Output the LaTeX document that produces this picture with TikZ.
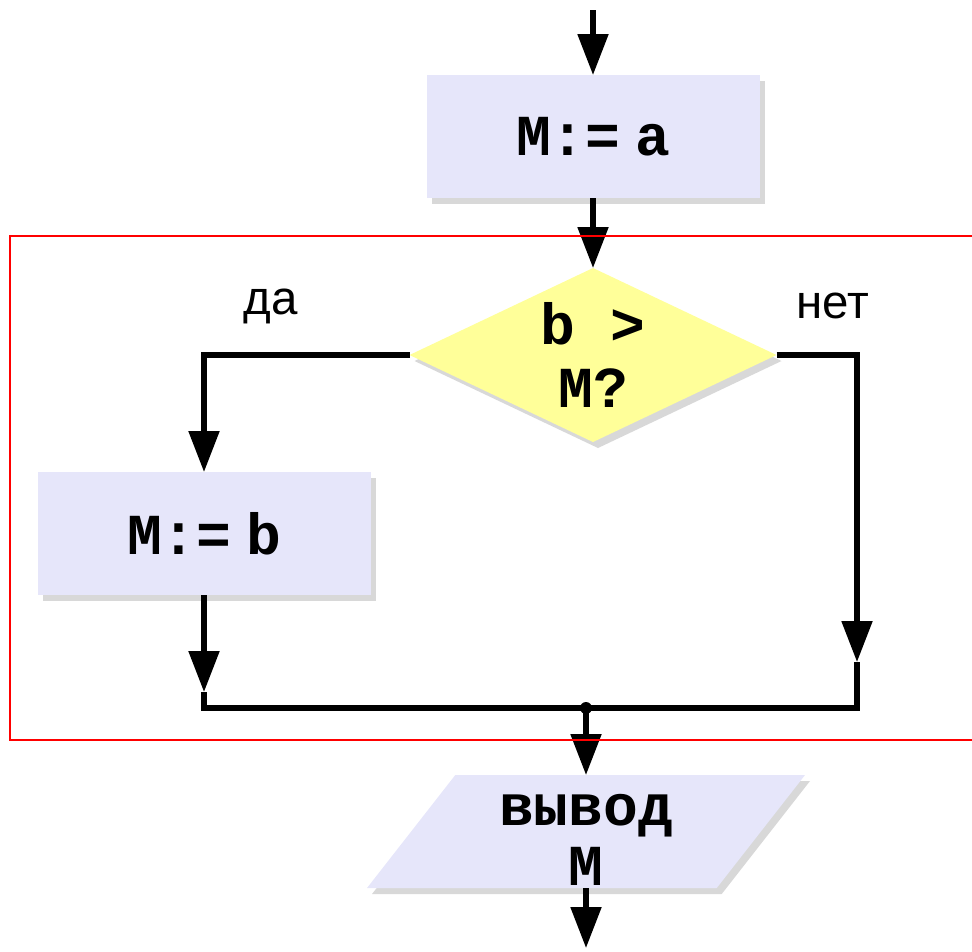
\documentclass[tikz,border=0pt]{standalone}
\usepackage{fontspec}
\setmainfont{Liberation Sans}
\newfontfamily\codefont{Liberation Mono}
\definecolor{boxlav}{RGB}{230, 230, 250}
\definecolor{condyel}{RGB}{255, 255, 153}
\definecolor{framered}{RGB}{255, 0, 0}
\usetikzlibrary{shapes.geometric, arrows.meta, positioning, shadows}
\tikzset{
  code/.style={font=\fontsize{33}{36}\codefont\bfseries},
  lbl/.style={font=\fontsize{27}{30}\selectfont},
  softshadow/.style={drop shadow={shadow xshift=0.1cm, shadow yshift=-0.12cm, fill=black!30}},
  procbox/.style={rectangle, fill=boxlav, minimum width=6.66cm, minimum height=2.46cm,
    inner sep=0pt, outer sep=0pt, softshadow, code},
  decision/.style={diamond, aspect=2.1, fill=condyel, minimum width=7.34cm, minimum height=3.48cm,
    inner sep=0pt, outer sep=0pt, softshadow, code, align=center},
  iobox/.style={trapezium, trapezium left angle=52, trapezium right angle=128,
    trapezium stretches body=true, minimum width=8.76cm,
    fill=boxlav, inner xsep=2pt, inner ysep=0pt, outer sep=0pt, softshadow},
  flow/.style={line width=3pt},
  arr/.style={flow, -{Triangle[length=0.82cm, width=0.6cm]}}
}

\begin{document}
\begin{tikzpicture}
  \useasboundingbox (0,0) rectangle (19.44,-19.02);

  % Blocks
  \node[procbox] (assign) at (11.86,-2.73) {М:=\hspace{0.25em}a};
  \node[decision] (cond) at (11.86,-7.1) {b >\\М?};
  \node[procbox] (setb) at (4.08,-10.67) {М:=\hspace{0.25em}b};
  \node[iobox] (out) at (11.72,-16.63) {\rule[-1.13cm]{0pt}{2.26cm}};
  \node[code, align=center] (outtext) at (11.72,-16.8) {вывод\\[-2pt]М};

  % Branch labels
  \node[lbl, anchor=base] (yes) at (5.42,-6.28) {да};
  \node[lbl, anchor=base] (no) at (16.66,-6.36) {нет};

  % Connector points
  \coordinate (start) at (11.86,-0.2);
  \coordinate (lmid) at (4.08,-13.84);
  \coordinate (rmid) at (17.14,-13.24);
  \coordinate (ljoin) at (4.08,-14.16);
  \coordinate (rjoin) at (17.14,-14.16);
  \coordinate (join) at (11.72,-14.16);
  \coordinate (end) at (11.72,-18.96);

  % Connectors
  \draw[arr] (start) -- (assign.north);
  \draw[arr] (assign.south) -- (cond.north);
  \draw[arr] (cond.west) -| (setb.north);
  \draw[arr] (cond.east) -| (rmid);
  \draw[arr] (setb.south) -- (lmid);
  \draw[flow] (lmid) -- (ljoin) -- (rjoin) -- (rmid);
  \fill (join) circle (0.12cm);
  \draw[arr] (join) -- (out.north);
  \draw[arr] (out.south) -- (end);

  % Loop frame
  \draw[framered, line width=0.04cm] (0.2,-4.72) rectangle (19.8,-14.8);
\end{tikzpicture}
\end{document}
